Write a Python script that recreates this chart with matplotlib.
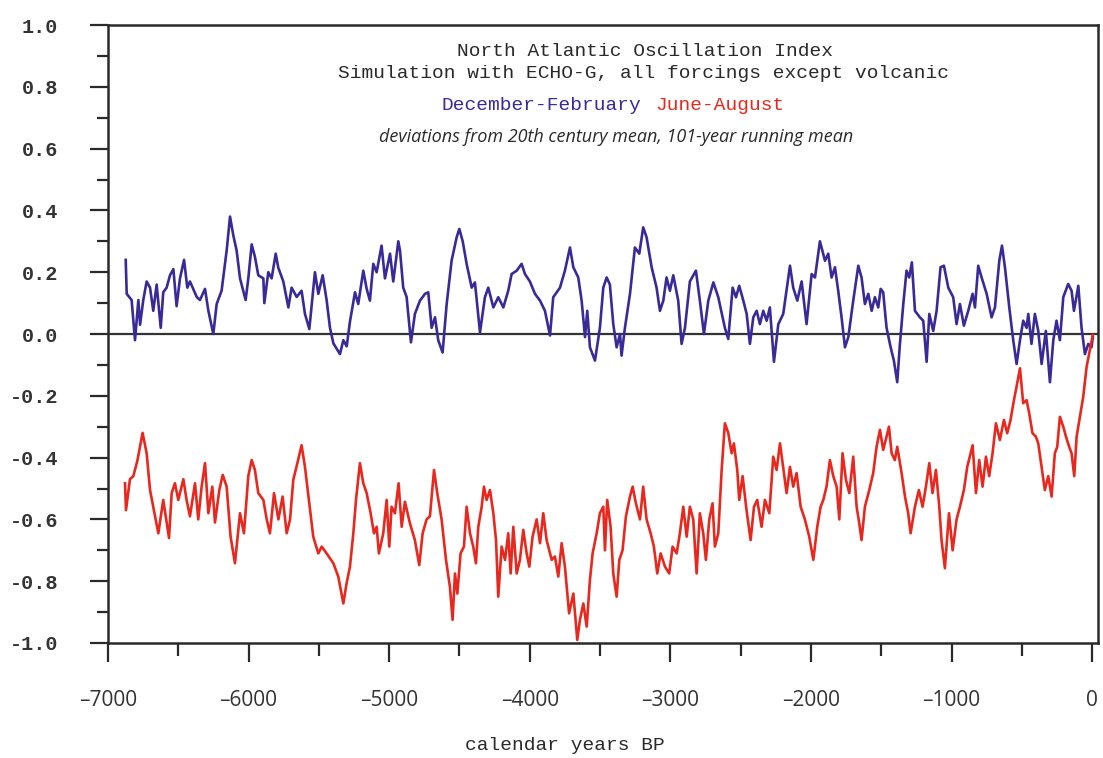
import matplotlib
matplotlib.use("Agg")
import matplotlib.pyplot as plt
from matplotlib.ticker import MultipleLocator, FixedLocator, FixedFormatter

# ---------------- data ----------------
dec_feb_years = [
    -6874, -6867, -6832, -6808, -6784, -6772, -6749, -6725, -6701, -6678,
    -6654, -6625, -6607, -6583, -6559, -6535, -6512, -6488, -6459, -6436,
    -6417, -6369, -6346, -6310, -6286, -6251, -6227, -6192, -6156, -6132,
    -6109, -6085, -6061, -6021, -6002, -5978, -5955, -5931, -5895, -5888,
    -5860, -5836, -5807, -5789, -5753, -5717, -5694, -5658, -5623, -5599,
    -5568, -5528, -5504, -5473, -5445, -5421, -5397, -5350, -5326, -5302,
    -5279, -5243, -5220, -5184, -5160, -5137, -5113, -5089, -5054, -5030,
    -4994, -4971, -4935, -4923, -4900, -4876, -4845, -4817, -4781, -4745,
    -4722, -4698, -4674, -4651, -4620, -4591, -4556, -4520, -4501, -4477,
    -4449, -4413, -4390, -4354, -4319, -4295, -4259, -4224, -4188, -4153,
    -4129, -4093, -4058, -4034, -3999, -3963, -3927, -3892, -3856, -3833,
    -3785, -3750, -3714, -3690, -3655, -3631, -3607, -3591, -3572, -3536,
    -3501, -3477, -3453, -3430, -3406, -3382, -3358, -3347, -3323, -3287,
    -3252, -3221, -3193, -3169, -3133, -3098, -3074, -3050, -3027, -3003,
    -2979, -2944, -2920, -2896, -2861, -2818, -2790, -2761, -2730, -2694,
    -2659, -2612, -2588, -2557, -2533, -2510, -2481, -2457, -2434, -2410,
    -2386, -2363, -2339, -2315, -2292, -2263, -2232, -2197, -2149, -2126,
    -2097, -2066, -2031, -1995, -1971, -1936, -1900, -1877, -1853, -1829,
    -1806, -1782, -1758, -1734, -1699, -1663, -1640, -1616, -1592, -1568,
    -1545, -1521, -1504, -1486, -1462, -1433, -1410, -1386, -1367, -1343,
    -1320, -1301, -1282, -1260, -1225, -1201, -1177, -1158, -1130, -1106,
    -1078, -1054, -1023, -988, -964, -940, -912, -881, -850, -833,
    -810, -786, -750, -715, -691, -660, -641, -620, -589, -561,
    -537, -513, -490, -466, -454, -431, -407, -383, -359, -329,
    -300, -276, -253, -229, -205, -170, -146, -129, -98, -75,
    -51, -27, -4, 5,
]
dec_feb_values = [
    0.24, 0.13, 0.11, -0.02, 0.11, 0.03, 0.11, 0.17, 0.15, 0.075,
    0.16, 0.02, 0.135, 0.15, 0.19, 0.21, 0.09, 0.18, 0.24, 0.15,
    0.17, 0.12, 0.11, 0.146, 0.075, 0.0, 0.097, 0.14, 0.27, 0.38,
    0.32, 0.27, 0.18, 0.11, 0.18, 0.29, 0.25, 0.19, 0.18, 0.10,
    0.20, 0.18, 0.26, 0.215, 0.17, 0.086, 0.15, 0.12, 0.14, 0.065,
    0.016, 0.20, 0.13, 0.19, 0.11, 0.02, -0.03, -0.065, -0.02, -0.04,
    0.04, 0.135, 0.097, 0.205, 0.146, 0.108, 0.227, 0.20, 0.286, 0.18,
    0.26, 0.17, 0.30, 0.27, 0.15, 0.12, -0.027, 0.065, 0.108, 0.13,
    0.135, 0.02, 0.054, -0.02, -0.06, 0.097, 0.237, 0.313, 0.34, 0.30,
    0.227, 0.15, 0.167, 0.005, 0.119, 0.15, 0.086, 0.119, 0.086, 0.14,
    0.194, 0.205, 0.227, 0.194, 0.17, 0.13, 0.108, 0.075, -0.005, 0.119,
    0.15, 0.205, 0.28, 0.216, 0.183, 0.108, -0.01, 0.075, -0.043, -0.086,
    0.02, 0.15, 0.183, 0.16, 0.032, -0.043, 0.0, -0.07, 0.02, 0.13,
    0.28, 0.26, 0.345, 0.313, 0.216, 0.15, 0.075, 0.108, 0.183, 0.14,
    0.19, 0.108, -0.032, 0.02, 0.17, 0.205, 0.108, 0.0, 0.108, 0.167,
    0.119, 0.02, -0.016, 0.15, 0.119, 0.156, 0.108, 0.065, -0.032, 0.054,
    0.075, 0.032, 0.075, 0.043, 0.086, -0.09, 0.032, 0.065, 0.221, 0.15,
    0.108, 0.17, 0.032, 0.194, 0.183, 0.30, 0.237, 0.26, 0.183, 0.216,
    0.14, 0.054, -0.043, -0.01, 0.108, 0.221, 0.183, 0.097, 0.13, 0.075,
    0.119, 0.086, 0.146, 0.135, 0.02, -0.043, -0.086, -0.156, -0.032, 0.097,
    0.205, 0.183, 0.232, 0.075, 0.054, 0.043, -0.09, 0.065, 0.01, 0.075,
    0.216, 0.221, 0.15, 0.119, 0.032, 0.097, 0.027, 0.075, 0.13, 0.086,
    0.221, 0.183, 0.13, 0.054, 0.086, 0.237, 0.286, 0.216, 0.086, -0.02,
    -0.097, -0.02, 0.043, 0.02, 0.065, -0.032, 0.065, 0.01, -0.097, 0.01,
    -0.156, -0.02, 0.043, -0.02, 0.119, 0.162, 0.14, 0.075, 0.156, 0.02,
    -0.065, -0.032, -0.043, -0.01,
]

jun_aug_years = [
    -6879, -6872, -6844, -6820, -6791, -6754, -6725, -6701, -6678, -6642,
    -6607, -6566, -6547, -6524, -6500, -6464, -6441, -6417, -6381, -6358,
    -6334, -6310, -6286, -6258, -6239, -6208, -6184, -6156, -6128, -6097,
    -6061, -6033, -6002, -5978, -5955, -5931, -5895, -5871, -5848, -5819,
    -5788, -5758, -5729, -5705, -5682, -5653, -5623, -5599, -5568, -5540,
    -5504, -5480, -5445, -5397, -5362, -5326, -5303, -5279, -5255, -5236,
    -5208, -5184, -5160, -5132, -5108, -5089, -5073, -5042, -5018, -4999,
    -4983, -4959, -4933, -4911, -4888, -4852, -4817, -4786, -4762, -4734,
    -4710, -4681, -4658, -4627, -4596, -4568, -4549, -4532, -4515, -4492,
    -4468, -4449, -4425, -4402, -4383, -4366, -4342, -4326, -4307, -4283,
    -4259, -4240, -4224, -4200, -4176, -4153, -4136, -4117, -4093, -4070,
    -4046, -4022, -4003, -3980, -3951, -3927, -3904, -3880, -3844, -3821,
    -3797, -3773, -3750, -3720, -3690, -3662, -3643, -3619, -3595, -3572,
    -3553, -3524, -3501, -3477, -3465, -3449, -3425, -3406, -3382, -3363,
    -3340, -3316, -3287, -3268, -3245, -3216, -3193, -3169, -3140, -3117,
    -3093, -3069, -3038, -3008, -2984, -2955, -2932, -2908, -2884, -2861,
    -2837, -2813, -2790, -2766, -2747, -2723, -2700, -2683, -2659, -2635,
    -2612, -2588, -2564, -2548, -2524, -2510, -2486, -2458, -2429, -2405,
    -2382, -2351, -2327, -2296, -2268, -2244, -2220, -2192, -2173, -2149,
    -2126, -2102, -2073, -2043, -2012, -1983, -1955, -1931, -1912, -1889,
    -1865, -1841, -1817, -1798, -1775, -1751, -1727, -1699, -1675, -1656,
    -1640, -1616, -1585, -1557, -1533, -1509, -1486, -1462, -1445, -1426,
    -1403, -1386, -1355, -1331, -1308, -1291, -1260, -1232, -1206, -1182,
    -1158, -1135, -1111, -1087, -1071, -1047, -1018, -992, -964, -940,
    -912, -888, -850, -826, -803, -779, -755, -732, -708, -684,
    -656, -627, -604, -580, -556, -537, -513, -490, -466, -447,
    -424, -400, -383, -359, -336, -312, -288, -265, -248, -229,
    -205, -186, -163, -146, -127, -110, -87, -63, -39, -16,
    5,
]
jun_aug_values = [
    -0.483, -0.57, -0.47, -0.46, -0.41, -0.32, -0.386, -0.505, -0.56, -0.645,
    -0.537, -0.66, -0.515, -0.483, -0.537, -0.47, -0.537, -0.59, -0.483, -0.60,
    -0.494, -0.418, -0.58, -0.494, -0.61, -0.505, -0.456, -0.494, -0.656, -0.742,
    -0.58, -0.645, -0.46, -0.408, -0.44, -0.515, -0.537, -0.60, -0.645, -0.515,
    -0.60, -0.526, -0.645, -0.60, -0.472, -0.418, -0.36, -0.43, -0.548, -0.656,
    -0.71, -0.688, -0.71, -0.742, -0.785, -0.872, -0.807, -0.753, -0.645, -0.537,
    -0.418, -0.483, -0.515, -0.58, -0.645, -0.624, -0.71, -0.645, -0.537, -0.688,
    -0.559, -0.58, -0.483, -0.624, -0.543, -0.613, -0.667, -0.748, -0.645, -0.60,
    -0.59, -0.44, -0.515, -0.60, -0.73, -0.818, -0.925, -0.775, -0.84, -0.71,
    -0.688, -0.559, -0.645, -0.688, -0.742, -0.624, -0.559, -0.494, -0.537, -0.505,
    -0.58, -0.667, -0.85, -0.688, -0.731, -0.645, -0.775, -0.624, -0.775, -0.731,
    -0.634, -0.71, -0.753, -0.656, -0.60, -0.677, -0.58, -0.667, -0.731, -0.72,
    -0.785, -0.677, -0.753, -0.904, -0.84, -0.99, -0.925, -0.872, -0.947, -0.796,
    -0.71, -0.645, -0.58, -0.559, -0.70, -0.537, -0.624, -0.775, -0.85, -0.731,
    -0.70, -0.59, -0.526, -0.494, -0.548, -0.60, -0.494, -0.60, -0.645, -0.688,
    -0.775, -0.71, -0.753, -0.775, -0.688, -0.71, -0.645, -0.559, -0.656, -0.559,
    -0.60, -0.775, -0.58, -0.645, -0.731, -0.60, -0.548, -0.688, -0.645, -0.44,
    -0.289, -0.32, -0.386, -0.354, -0.44, -0.537, -0.46, -0.57, -0.667, -0.559,
    -0.537, -0.624, -0.537, -0.58, -0.397, -0.44, -0.354, -0.45, -0.515, -0.43,
    -0.494, -0.45, -0.559, -0.60, -0.656, -0.731, -0.624, -0.559, -0.537, -0.494,
    -0.408, -0.46, -0.494, -0.60, -0.386, -0.472, -0.515, -0.397, -0.559, -0.613,
    -0.667, -0.559, -0.505, -0.45, -0.365, -0.31, -0.375, -0.332, -0.30, -0.386,
    -0.408, -0.365, -0.45, -0.526, -0.58, -0.645, -0.559, -0.505, -0.559, -0.494,
    -0.418, -0.515, -0.44, -0.559, -0.667, -0.758, -0.58, -0.70, -0.60, -0.559,
    -0.505, -0.43, -0.36, -0.515, -0.408, -0.494, -0.397, -0.46, -0.386, -0.289,
    -0.343, -0.278, -0.321, -0.278, -0.214, -0.17, -0.111, -0.224, -0.214, -0.257,
    -0.321, -0.332, -0.354, -0.43, -0.505, -0.46, -0.526, -0.386, -0.365, -0.268,
    -0.30, -0.332, -0.365, -0.386, -0.46, -0.332, -0.268, -0.203, -0.106, -0.052,
    -0.003,
]

x_major_ticks = [-7000, -6000, -5000, -4000, -3000, -2000, -1000, 0]
x_tick_labels = ["\u20137000", "\u20136000", "\u20135000", "\u20134000",
                 "\u20133000", "\u20132000", "\u20131000", "0"]
y_major_ticks = [-1.0, -0.8, -0.6, -0.4, -0.2, 0.0, 0.2, 0.4, 0.6, 0.8, 1.0]
y_tick_labels = ["-1.0", "-0.8", "-0.6", "-0.4", "-0.2", "0.0",
                 "0.2", "0.4", "0.6", "0.8", "1.0"]

# ---------------- figure ----------------
W, H = 1103, 758
fig = plt.figure(figsize=(W / 100, H / 100), dpi=100)
fig.patch.set_facecolor("white")

left_px, right_px, top_px, bottom_px = 108, 1098, 25, 643
ax = fig.add_axes([left_px / W, 1 - bottom_px / H,
                   (right_px - left_px) / W, (bottom_px - top_px) / H])

blue = "#3a2a98"
red = "#e8281e"
ink = "#2a2a2a"

ax.axhline(0.0, color="#333333", lw=1.6, zorder=1)
ax.plot(dec_feb_years, dec_feb_values, color=blue, lw=1.9, zorder=2,
        solid_joinstyle="round")
ax.plot(jun_aug_years, jun_aug_values, color=red, lw=1.9, zorder=3,
        solid_joinstyle="round")

ax.set_xlim(-7000, 42)
ax.set_ylim(-1.0, 1.0)

for s in ax.spines.values():
    s.set_linewidth(1.8)
    s.set_color(ink)

mono = "Liberation Mono"
sans = "Open Sans"

ax.xaxis.set_major_locator(FixedLocator(x_major_ticks))
ax.xaxis.set_major_formatter(FixedFormatter(x_tick_labels))
ax.xaxis.set_minor_locator(MultipleLocator(500))
ax.yaxis.set_major_locator(FixedLocator(y_major_ticks))
ax.yaxis.set_major_formatter(FixedFormatter(y_tick_labels))
ax.yaxis.set_minor_locator(MultipleLocator(0.1))

ax.tick_params(axis="x", which="major", direction="out", length=14, width=1.6,
               pad=20, labelsize=15, color=ink, labelcolor="#333333")
ax.tick_params(axis="x", which="minor", direction="out", length=9.5, width=1.6,
               color=ink)
ax.tick_params(axis="y", which="major", direction="out", length=13, width=1.6,
               pad=23, labelsize=14.5, color=ink, labelcolor="#333333")
ax.tick_params(axis="y", which="minor", direction="out", length=8, width=1.6,
               color=ink)
for lab in ax.get_xticklabels():
    lab.set_fontfamily(sans)
for lab in ax.get_yticklabels():
    lab.set_fontfamily(mono)
    lab.set_fontweight("bold")

def fx(px):
    return px / W

def fy(py):
    return 1 - py / H

fig.text(fx(645), fy(52), "North Atlantic Oscillation Index", family=mono,
         fontsize=14, ha="center", va="center", color=ink)
fig.text(fx(644), fy(74), "Simulation with ECHO-G, all forcings except volcanic",
         family=mono, fontsize=14, ha="center", va="center", color=ink)
fig.text(fx(641), fy(106), "December-February", family=mono, fontsize=14,
         ha="right", va="center", color=blue)
fig.text(fx(655), fy(106), "June-August", family=mono, fontsize=14,
         ha="left", va="center", color=red)
fig.text(fx(616), fy(137), "deviations from 20th century mean, 101-year running mean",
         family=sans, style="italic", fontsize=13, ha="center", va="center",
         color=ink)
fig.text(fx(565), fy(745), "calendar years BP", family=mono, fontsize=14,
         ha="center", va="center", color=ink)

fig.savefig("out.png", dpi=100, facecolor="white")
